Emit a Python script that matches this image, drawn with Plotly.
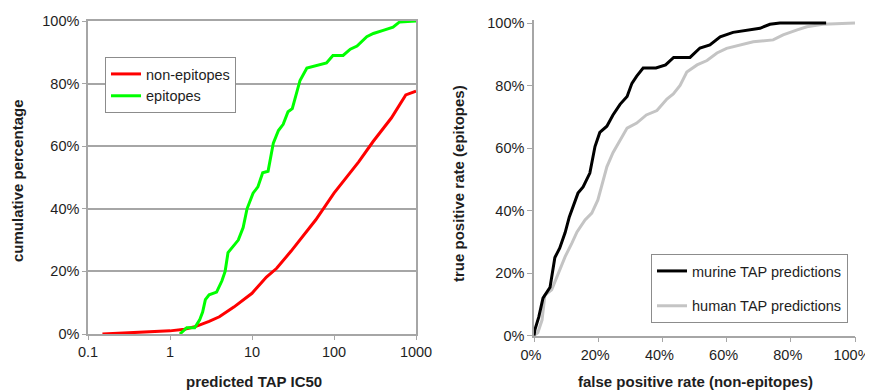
import plotly.graph_objects as go

# ---------------- data ----------------
# Left panel: cumulative percentage vs predicted TAP IC50 (log scale)
nonepi_ic50 = [0.15, 0.5, 1.0, 1.5, 2.0, 3.0, 4.0, 6.0, 8.0, 10, 15, 20, 30, 40, 60, 100, 150, 200, 300, 500, 750, 1000]
nonepi_pct = [0, 0.6, 1.0, 1.5, 2.3, 4.0, 5.5, 8.6, 11, 13, 18.2, 21, 26.5, 30.5, 36.5, 45, 51, 55, 61.5, 69, 76.4, 77.6]

epi_ic50 = [1.32, 1.45, 1.6, 2.0, 2.3, 2.5, 2.7, 3.0, 3.7, 4.3, 4.7, 5.1, 5.9, 6.8, 7.8, 8.7, 10.3, 11.8, 13.5, 15.7,
            18.2, 21, 24, 27.5, 31, 35, 38.5, 46.7, 67, 81, 97, 129, 158, 191, 251, 302, 398, 525, 631, 1000]
epi_pct = [0, 1, 2, 2, 4.5, 7, 11, 12.5, 13.4, 17, 20, 26, 28, 30, 34, 40, 45, 47, 51.5, 52,
           61, 65, 67, 71, 72, 77, 81, 85, 86, 86.6, 89, 89, 91, 92, 95, 96, 97, 98, 99.7, 100]

# Right panel: ROC curves
murine_fpr = [0, 0.3, 1.5, 2.8, 5, 6.5, 8, 9.7, 11, 12, 13.7, 15.3, 17.4, 19, 20.5, 22.7, 24.6, 26.8, 29, 30.5,
              32, 34, 38, 41, 43.5, 48.6, 51.7, 54.8, 58, 62, 66, 70.4, 73.5, 76.6, 91]
murine_tpr = [0, 2, 6, 12, 15.5, 25, 28, 33, 38, 41, 45.6, 47.6, 52, 60.5, 65, 67, 70.6, 74, 76.5, 80.7,
              83, 85.6, 85.6, 86.6, 89, 89, 92, 93, 95.6, 97, 97.7, 98.3, 99.6, 100, 100]

human_fpr = [0, 1.2, 2.5, 3.4, 5.5, 8, 9.7, 11.8, 13.4, 15.9, 18, 19.9, 21, 22.7, 24.6, 26.8, 29, 32, 35, 38.3,
             41.4, 43.4, 45.5, 47.6, 50.8, 53.9, 57, 60, 64, 68.3, 74.5, 77.6, 82, 85, 90, 98.4, 100]
human_tpr = [0, 1, 5, 13, 14.7, 21, 25.3, 29.6, 33.2, 37, 39.2, 43.4, 47.6, 54, 58.5, 62.6, 66.4, 68, 70.6, 72,
             75.7, 77.3, 80, 84.3, 86.6, 88, 90.4, 91.9, 93, 94, 94.6, 96.2, 97.8, 98.8, 99.6, 100, 100]

ic50_ticks = [0.1, 1, 10, 100, 1000]
ic50_ticktext = ["0.1", "1", "10", "100", "1000"]
pct_ticks = [0, 20, 40, 60, 80, 100]
pct_ticktext = ["0%", "20%", "40%", "60%", "80%", "100%"]

# ---------------- figure ----------------
W, H = 873, 391
OFF = 8  # page body margin
FONT = "Liberation Sans, Arial, sans-serif"
TXT = "#1e1e1e"
GRID = "#a6a6a6"

def px_x(p):
    return (p - OFF) / W

def px_y(p):
    return 1 - (p - OFF) / H

fig = go.Figure()

fig.add_trace(go.Scatter(x=nonepi_ic50, y=nonepi_pct, mode="lines", name="non-epitopes",
                         line=dict(color="#ff0000", width=3), xaxis="x", yaxis="y",
                         legend="legend", legendgroup="a"))
fig.add_trace(go.Scatter(x=epi_ic50, y=epi_pct, mode="lines", name="epitopes",
                         line=dict(color="#00ff00", width=3), xaxis="x", yaxis="y",
                         legend="legend", legendgroup="b"))
fig.add_trace(go.Scatter(x=human_fpr, y=human_tpr, mode="lines", name="human TAP predictions",
                         line=dict(color="#c4c4c4", width=3), xaxis="x2", yaxis="y2",
                         legend="legend2", legendgroup="d", legendrank=2))
fig.add_trace(go.Scatter(x=murine_fpr, y=murine_tpr, mode="lines", name="murine TAP predictions",
                         line=dict(color="#000000", width=3), xaxis="x2", yaxis="y2",
                         legend="legend2", legendgroup="c", legendrank=1))

tickfont = dict(family=FONT, size=14.5, color=TXT)

fig.update_layout(
    width=W, height=H, autosize=False,
    margin=dict(l=0, r=0, t=0, b=0, autoexpand=False),
    paper_bgcolor="white", plot_bgcolor="white",
    font=dict(family=FONT, size=14.5, color=TXT),
    xaxis=dict(type="log", range=[-1, 3], domain=[px_x(88), px_x(416)], automargin=False,
               tickvals=ic50_ticks, ticktext=ic50_ticktext, tickfont=tickfont,
               showgrid=False, zeroline=False, showline=True, mirror=True,
               linecolor=GRID, linewidth=1.5, ticks="outside", ticklen=4, tickcolor=GRID,
               anchor="y"),
    yaxis=dict(range=[0, 100], domain=[px_y(334), px_y(21)], automargin=False,
               tickvals=pct_ticks, ticktext=pct_ticktext, tickfont=tickfont,
               showgrid=True, gridcolor=GRID, gridwidth=1.5, zeroline=False,
               showline=True, mirror=True, linecolor=GRID, linewidth=1.5,
               ticks="outside", ticklen=4, tickcolor=GRID, anchor="x"),
    xaxis2=dict(range=[0, 100], domain=[px_x(534), px_x(855)], automargin=False,
                tickvals=pct_ticks, ticktext=pct_ticktext, tickfont=tickfont,
                ticklabelshift=-3,
                showgrid=False, zeroline=False, showline=True, linecolor=GRID, linewidth=1.5,
                ticks="outside", ticklen=5, tickcolor=GRID, anchor="y2"),
    yaxis2=dict(range=[0, 101], domain=[px_y(335.7), px_y(335.7 - 101 * 3.127)], automargin=False,
                tickvals=pct_ticks, ticktext=pct_ticktext, tickfont=tickfont,
                showgrid=False, zeroline=False, showline=True, linecolor=GRID, linewidth=1.5,
                ticks="outside", ticklen=5, tickcolor=GRID, anchor="x2"),
    legend=dict(x=px_x(105), y=px_y(57), xanchor="left", yanchor="top",
                bgcolor="white", bordercolor="#8c8c8c", borderwidth=1,
                font=dict(family=FONT, size=14.5, color=TXT), tracegroupgap=0,
                itemclick=False),
    legend2=dict(x=px_x(651), y=px_y(254), xanchor="left", yanchor="top",
                 bgcolor="white", bordercolor="#8c8c8c", borderwidth=1,
                 font=dict(family=FONT, size=14.5, color=TXT), tracegroupgap=13,
                 itemclick=False),
    showlegend=True,
)

title_font = dict(family=FONT, size=15, color=TXT)
annotations = [
    dict(text="<b>predicted TAP IC50</b>", x=px_x(254), y=px_y(381), xref="paper", yref="paper",
         xanchor="center", yanchor="middle", showarrow=False, font=title_font),
    dict(text="<b>false positive rate (non-epitopes)</b>", x=px_x(695), y=px_y(381), xref="paper", yref="paper",
         xanchor="center", yanchor="middle", showarrow=False, font=title_font),
    dict(text="<b>cumulative percentage</b>", x=px_x(18), y=px_y(181), xref="paper", yref="paper",
         xanchor="center", yanchor="middle", showarrow=False, textangle=-90, font=title_font),
    dict(text="<b>true positive rate (epitopes)</b>", x=px_x(458), y=px_y(183), xref="paper", yref="paper",
         xanchor="center", yanchor="middle", showarrow=False, textangle=-90, font=title_font),
]
fig.update_layout(annotations=annotations)

fig.write_html("out.html")
